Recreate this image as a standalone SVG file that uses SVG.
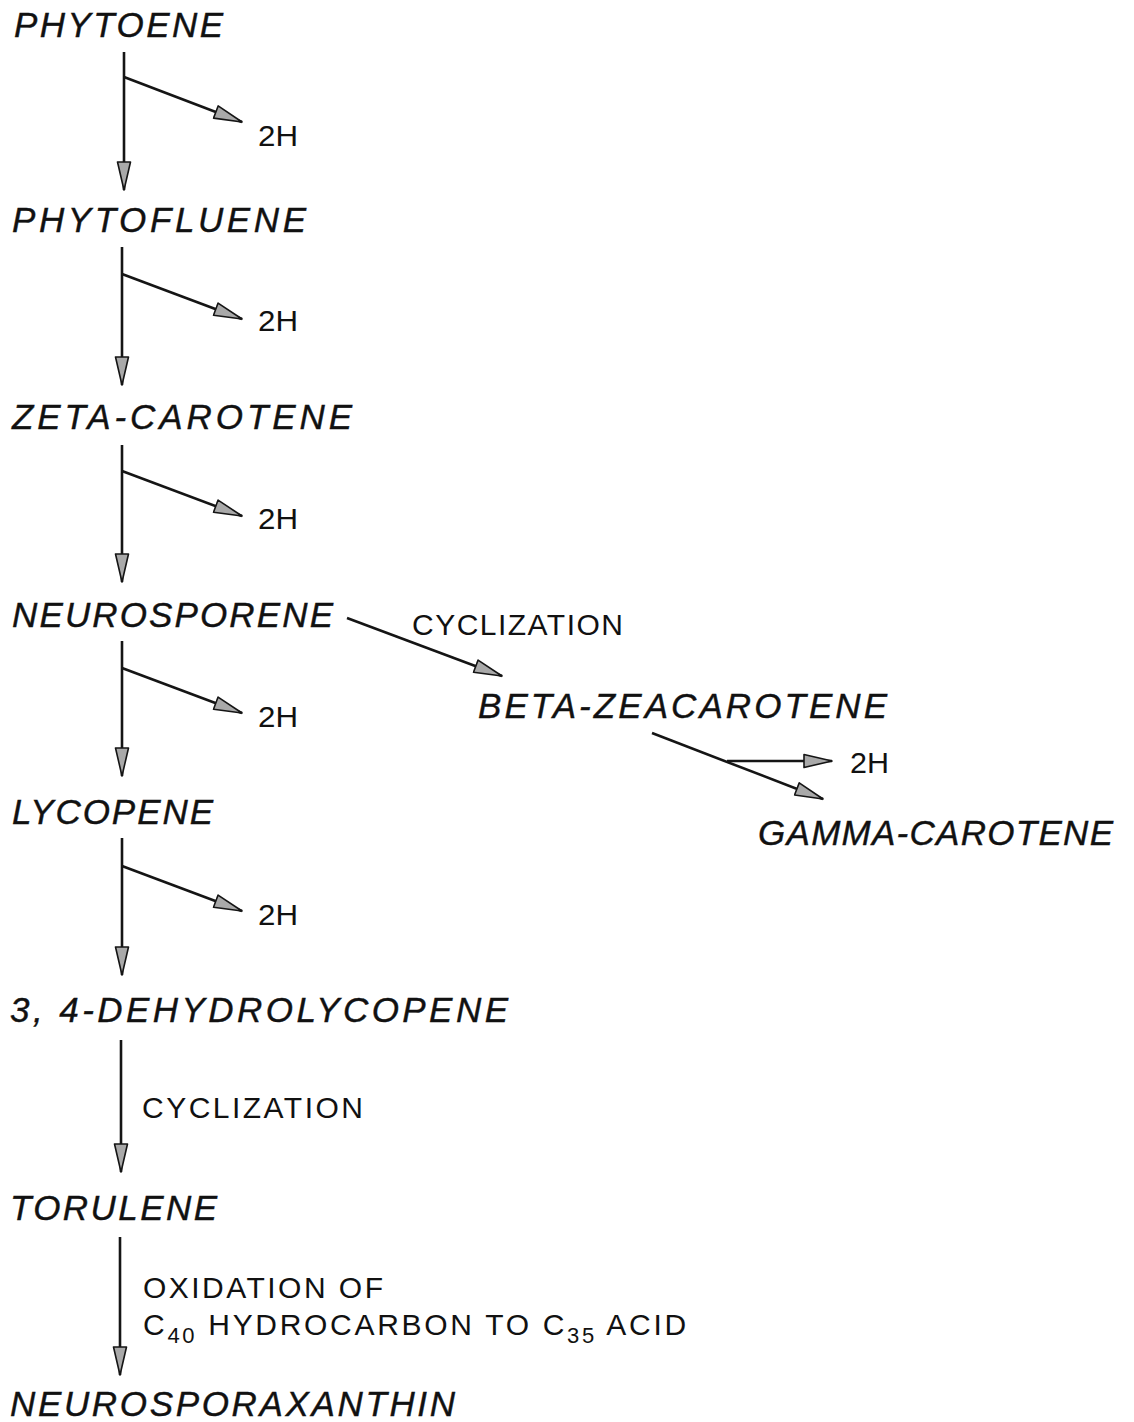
<svg xmlns="http://www.w3.org/2000/svg" width="1134" height="1422" viewBox="0 0 1134 1422">
  <style>
    .cmp { font-family: "Liberation Sans", Arial, sans-serif; font-style: italic; font-size: 35px; fill: #111; stroke: #111; stroke-width: 0.4; }
    .lbl { font-family: "Liberation Sans", Arial, sans-serif; font-size: 30px; fill: #111; }
    .sub { font-size: 22px; }
    .edge { stroke: #151515; stroke-width: 2.6; fill: none; marker-end: url(#head); }
  </style>
  <defs>
    <marker id="head" markerUnits="userSpaceOnUse" markerWidth="32" markerHeight="18" refX="29" refY="8" orient="auto">
      <path d="M1,1.5 L29,8 L1,14.5 Z" fill="#a9a9a9" stroke="#151515" stroke-width="1.6" stroke-linejoin="round"/>
    </marker>
  </defs>
  <rect width="1134" height="1422" fill="#fff"/>

  <!-- compounds -->
  <g id="phytoene"><text class="cmp" x="14" y="37" textLength="209" lengthAdjust="spacing">PHYTOENE</text></g>
  <g id="phytofluene"><text class="cmp" x="12" y="232" textLength="294" lengthAdjust="spacing">PHYTOFLUENE</text></g>
  <g id="zeta-carotene"><text class="cmp" x="12" y="429" textLength="340" lengthAdjust="spacing">ZETA-CAROTENE</text></g>
  <g id="neurosporene"><text class="cmp" x="12" y="627" textLength="321" lengthAdjust="spacing">NEUROSPORENE</text></g>
  <g id="lycopene"><text class="cmp" x="12" y="824" textLength="201" lengthAdjust="spacing">LYCOPENE</text></g>
  <g id="dehydrolycopene"><text class="cmp" x="10" y="1022" textLength="498" lengthAdjust="spacing">3, 4-DEHYDROLYCOPENE</text></g>
  <g id="torulene"><text class="cmp" x="10" y="1220" textLength="207" lengthAdjust="spacing">TORULENE</text></g>
  <g id="neurosporaxanthin"><text class="cmp" x="10" y="1416" textLength="445" lengthAdjust="spacing">NEUROSPORAXANTHIN</text></g>
  <g id="beta-zeacarotene"><text class="cmp" x="478" y="718" textLength="409" lengthAdjust="spacing">BETA-ZEACAROTENE</text></g>
  <g id="gamma-carotene"><text class="cmp" x="758" y="845" textLength="355" lengthAdjust="spacing">GAMMA-CAROTENE</text></g>

  <!-- released hydrogen -->
  <g id="h2-1"><text class="lbl" x="258" y="146" textLength="40" lengthAdjust="spacingAndGlyphs">2H</text></g>
  <g id="h2-2"><text class="lbl" x="258" y="331" textLength="40" lengthAdjust="spacingAndGlyphs">2H</text></g>
  <g id="h2-3"><text class="lbl" x="258" y="529" textLength="40" lengthAdjust="spacingAndGlyphs">2H</text></g>
  <g id="h2-4"><text class="lbl" x="258" y="727" textLength="40" lengthAdjust="spacingAndGlyphs">2H</text></g>
  <g id="h2-5"><text class="lbl" x="258" y="925" textLength="40" lengthAdjust="spacingAndGlyphs">2H</text></g>
  <g id="h2-6"><text class="lbl" x="850" y="773" textLength="39" lengthAdjust="spacingAndGlyphs">2H</text></g>

  <!-- step labels -->
  <g id="step-cyclization-1"><text class="lbl" x="412" y="635" textLength="211" lengthAdjust="spacing">CYCLIZATION</text></g>
  <g id="step-cyclization-2"><text class="lbl" x="142" y="1118" textLength="221" lengthAdjust="spacing">CYCLIZATION</text></g>
  <g id="step-oxidation">
    <text class="lbl" x="143" y="1298" textLength="240" lengthAdjust="spacing">OXIDATION OF</text>
    <text class="lbl" x="143" y="1335" letter-spacing="2.7">C<tspan class="sub" dy="8">40</tspan><tspan dy="-8"> HYDROCARBON TO C</tspan><tspan class="sub" dy="8">35</tspan><tspan dy="-8"> ACID</tspan></text>
  </g>

  <!-- connectors -->
  <g id="connectors">
    <line class="edge" x1="124" y1="52" x2="124" y2="190"/>
    <line class="edge" x1="124" y1="77" x2="242" y2="122"/>

    <line class="edge" x1="122" y1="247" x2="122" y2="385"/>
    <line class="edge" x1="122" y1="274" x2="242" y2="319"/>

    <line class="edge" x1="122" y1="445" x2="122" y2="582"/>
    <line class="edge" x1="122" y1="471" x2="242" y2="516"/>

    <line class="edge" x1="122" y1="641" x2="122" y2="776"/>
    <line class="edge" x1="122" y1="668" x2="242" y2="713"/>

    <line class="edge" x1="122" y1="838" x2="122" y2="975"/>
    <line class="edge" x1="122" y1="866" x2="242" y2="911"/>

    <line class="edge" x1="121" y1="1040" x2="121" y2="1172"/>
    <line class="edge" x1="120" y1="1237" x2="120" y2="1375"/>

    <line class="edge" x1="347" y1="618" x2="502" y2="676"/>

    <line class="edge" x1="652" y1="733" x2="823" y2="799"/>
    <line class="edge" x1="727" y1="761" x2="832" y2="761"/>
  </g>
</svg>
